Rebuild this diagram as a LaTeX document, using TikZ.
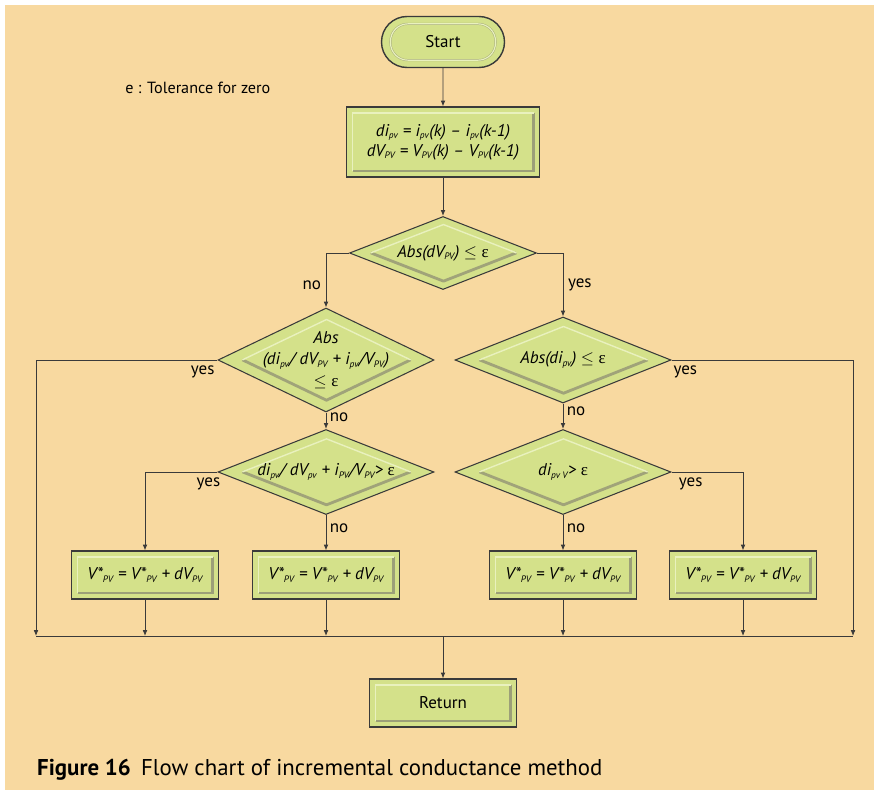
\documentclass[tikz,border=0pt]{standalone}
\usepackage{fontspec}
\setmainfont{PT Sans}
\newfontfamily\grkfont{Liberation Serif}
\usetikzlibrary{shapes.geometric,shapes.misc,arrows.meta,calc,positioning}

\definecolor{pagebg}{HTML}{F8D9A0}
\definecolor{boxgreen}{HTML}{D4E18A}
\definecolor{boxlight}{HTML}{E9F1BE}
\definecolor{boxshade}{HTML}{8A8A72}
\definecolor{linegray}{HTML}{3A3A3A}

\newcommand{\sbs}[1]{\textsubscript{\itshape\fontsize{8}{9}\selectfont #1}}
\newcommand{\eps}{{\upshape\grkfont ε}}
\newcommand{\epsle}{$\leq$ \eps}

\tikzset{
  base/.style={fill=boxgreen, draw=linegray, line width=0.9pt, align=center,
    inner sep=0pt, font=\fontsize{14.5}{18.5}\selectfont\itshape},
  bevelbox/.style={path picture={
    \draw[boxshade, line width=2.4pt, opacity=0.75]
      ([shift={(0.18cm,0.18cm)}]path picture bounding box.south west)
      -- ([shift={(-0.18cm,0.18cm)}]path picture bounding box.south east)
      -- ([shift={(-0.18cm,-0.18cm)}]path picture bounding box.north east);
    \draw[boxlight, line width=1.2pt]
      ([shift={(0.18cm,0.18cm)}]path picture bounding box.south west)
      -- ([shift={(0.18cm,-0.18cm)}]path picture bounding box.north west)
      -- ([shift={(-0.18cm,-0.18cm)}]path picture bounding box.north east);
  }},
  procbox/.style={base, bevelbox, rectangle, minimum width=4.41cm, minimum height=1.44cm},
  startbox/.style={base, rounded rectangle, minimum width=3.69cm, minimum height=1.53cm,
    line width=1.2pt, font=\fontsize{14.5}{17}\selectfont, path picture={
    \draw[boxshade, line width=1.8pt, opacity=0.6, rounded corners=0.52cm]
      ([shift={(0.27cm,0.22cm)}]path picture bounding box.south west)
      rectangle ([shift={(-0.27cm,-0.22cm)}]path picture bounding box.north east);
    \draw[boxlight, line width=1pt, rounded corners=0.52cm]
      ([shift={(0.27cm,0.22cm)}]path picture bounding box.south west)
      rectangle ([shift={(-0.27cm,-0.22cm)}]path picture bounding box.north east);
  }},
  decision/.style={base, diamond, inner sep=-0.6cm, minimum width=6.48cm, minimum height=2.58cm,
    path picture={
    \coordinate (dc) at ([shift={(0.07cm,0.02cm)}]path picture bounding box.center);
    \draw[boxshade, line width=2.4pt, opacity=0.7, line join=round]
      ($(dc)!0.78!(path picture bounding box.west)$)
      -- ($(dc)!0.78!(path picture bounding box.south)$)
      -- ($(dc)!0.78!(path picture bounding box.east)$);
    \draw[boxlight, line width=1.2pt, line join=round]
      ($(dc)!0.78!(path picture bounding box.west)$)
      -- ($(dc)!0.78!(path picture bounding box.north)$)
      -- ($(dc)!0.78!(path picture bounding box.east)$);
  }},
  lbl/.style={font=\fontsize{14.5}{17}\selectfont, inner sep=1pt},
  arr/.style={draw=linegray, line width=0.7pt, -{Latex[length=5pt,width=4pt]}},
  line/.style={draw=linegray, line width=0.7pt}
}

\begin{document}
\begin{tikzpicture}
  \useasboundingbox (0,0) rectangle (26.22,-23.7);
  \fill[pagebg] (0.15,-0.15) rectangle (26.22,-23.7);

  % top part
  \node[startbox] (start) at (13.29,-1.26) {Start};
  \node[lbl, anchor=west, font=\fontsize{13.8}{16}\selectfont] (tol) at (3.72,-2.64) {e : Tolerance for zero};
  \node[procbox, minimum width=5.79cm, minimum height=2.1cm, font=\fontsize{14.5}{17}\selectfont\itshape] (diff) at (13.29,-4.26)
    {di\sbs{pv} = i\sbs{pv}(k) -- i\sbs{pv}(k-1)\\dV\sbs{PV} = V\sbs{PV}(k) -- V\sbs{PV}(k-1)};
  \node[decision, minimum width=5.61cm, minimum height=2.19cm] (dvzero) at (13.29,-7.59)
    {Abs(dV\sbs{PV}) \epsle};

  % decisions
  \node[decision] (incond) at (9.78,-10.8)
    {Abs\\(di\sbs{pv}/ dV\sbs{PV} + i\sbs{pv}/V\sbs{PV})\\\epsle};
  \node[decision] (dizero) at (16.89,-10.8) {Abs(di\sbs{pv}) \epsle};
  \node[decision, minimum height=2.55cm] (incgt) at (9.78,-14.16)
    {di\sbs{pv}/ dV\sbs{pv} + i\sbs{PV}/V\sbs{PV}> \eps};
  \node[decision, minimum height=2.55cm] (digt) at (16.89,-14.16) {di\sbs{pv V}> \eps};

  % updates
  \node[procbox] (upa) at (4.35,-17.25) {V*\sbs{PV} = V*\sbs{PV} + dV\sbs{PV}};
  \node[procbox] (upb) at (9.78,-17.25) {V*\sbs{PV} = V*\sbs{PV} + dV\sbs{PV}};
  \node[procbox] (upc) at (16.89,-17.25) {V*\sbs{PV} = V*\sbs{PV} + dV\sbs{PV}};
  \node[procbox] (upd) at (22.29,-17.25) {V*\sbs{PV} = V*\sbs{PV} + dV\sbs{PV}};

  \coordinate (mergel) at (1.08,-19.08);
  \coordinate (merger) at (25.59,-19.08);
  \node[procbox, font=\fontsize{14.5}{17}\selectfont] (ret) at (13.29,-21.09) {Return};

  \node[anchor=base west, inner sep=0pt, font=\fontsize{19.5}{23}\selectfont] (cap) at (1.11,-23.25)
    {\textbf{Figure 16}\hspace{0.45em}Flow chart of incremental conductance method};

  % connectors
  \draw[arr] (start) -- (diff);
  \draw[arr] (diff) -- (dvzero);
  \draw[arr] (dvzero.west) -| node[lbl, pos=0.8, left=3pt] (no1) {no} (incond.north);
  \draw[arr] (dvzero.east) -| node[lbl, pos=0.75, right=3pt] (yes1) {yes} (dizero.north);
  \draw[arr] (incond.south) -- node[lbl, pos=0.3, right=2pt] (no2) {no} (incgt.north);
  \draw[arr] (dizero.south) -- node[lbl, pos=0.3, right=2pt] (no3) {no} (digt.north);
  \draw[arr] (incond.west) -| (mergel);
  \draw[arr] (dizero.east) -| (merger);
  \node[lbl, anchor=north east] (yes2) at ([shift={(-0.05,-0.12)}]incond.west) {yes};
  \node[lbl, anchor=north west] (yes3) at ([shift={(0.02,-0.12)}]dizero.east) {yes};

  \draw[arr] (incgt.west) -| (upa.north);
  \draw[arr] (incgt.south) -- node[lbl, pos=0.36, right=2pt] (no4) {no} (upb.north);
  \draw[arr] (digt.south) -- node[lbl, pos=0.36, right=2pt] (no5) {no} (upc.north);
  \draw[arr] (digt.east) -| (upd.north);
  \node[lbl, anchor=north] (yes4) at ([shift={(-0.27,-0.12)}]incgt.west) {yes};
  \node[lbl, anchor=north west] (yes5) at ([shift={(0.18,-0.12)}]digt.east) {yes};

  % merge into return
  \foreach \n in {upa,upb,upc,upd}
    \draw[arr] (\n.south) -- (\n.south |- mergel);
  \draw[line] (mergel) -- (merger);
  \draw[arr] (ret.north |- mergel) -- (ret.north);
\end{tikzpicture}
\end{document}
